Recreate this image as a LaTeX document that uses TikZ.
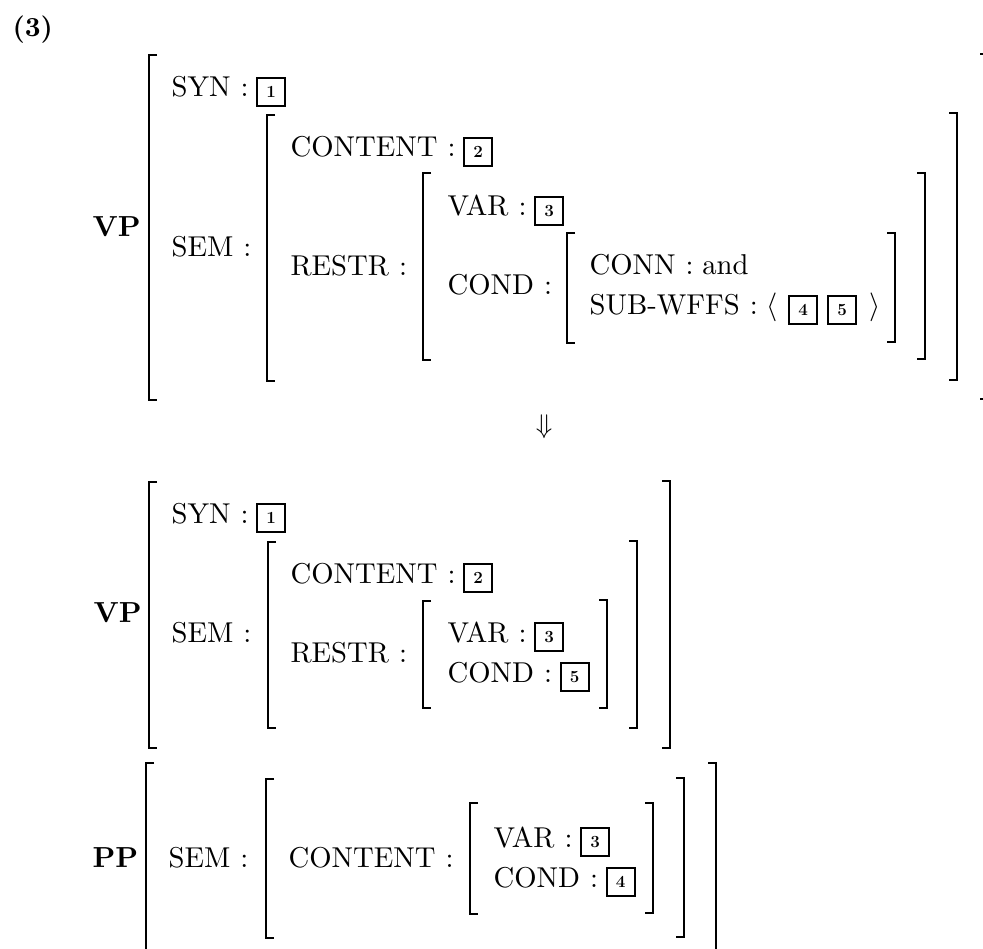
\documentclass[tikz,border=0pt]{standalone}
\tikzset{
  avmtext/.style={inner sep=0pt, anchor=base west, font=\fontsize{10}{12}\selectfont, scale=2.87},
  avmcat/.style={inner sep=0pt, anchor=base west, font=\fontsize{10}{12}\selectfont\bfseries, scale=2.9},
  tagbox/.style={draw, line width=2pt, minimum width=28pt, minimum height=28pt,
    inner sep=0pt, anchor=west, font=\fontsize{17}{17}\selectfont\bfseries},
  tagafter/.style={tagbox, xshift=7pt, yshift=5pt},
  brk/.style={line width=2.7pt, line join=miter, line cap=butt},
}
\newcommand{\fcolon}{\hspace{0.35em}:\hspace{0.3em}}

\begin{document}
\begin{tikzpicture}[x=1pt, y=-1pt]
\useasboundingbox (0,0) rectangle (983,949);
\clip (0,0) rectangle (983,949);
\node[avmcat, scale=2.75/2.9] (exno) at (12,37) {(3)};
% upper VP
\node[avmcat] (vpa) at (92,237) {VP};
\node[avmtext] (syna) at (171,97) {SYN\fcolon};
\node[tagafter] (ta1) at (syna.base east) {1};
\node[avmtext] (sema) at (171,257) {SEM\fcolon};
\node[avmtext] (conta) at (290,157) {CONTENT\fcolon};
\node[tagafter] (ta2) at (conta.base east) {2};
\node[avmtext] (restra) at (290,276) {RESTR\fcolon};
\node[avmtext] (vara) at (447,216) {VAR\fcolon};
\node[tagafter] (ta3) at (vara.base east) {3};
\node[avmtext] (conda) at (447,295) {COND\fcolon};
\node[avmtext] (conna) at (589,275) {CONN\fcolon and};
\node[avmtext] (suba) at (589,315) {SUB-WFFS\fcolon$\langle$};
\node[tagbox] (ta4) at ([xshift=10pt,yshift=5pt]suba.base east) {4};
\node[tagbox] (ta5) at ([xshift=9pt]ta4.east) {5};
\node[avmtext] (suben) at ([xshift=12pt,yshift=-5pt]ta5.east) {$\rangle$};
\foreach \x/\t/\b in {149/55/400, 267/115/381, 423/173/360, 567/233/343}
  \draw[brk] (\x+8,\t) -- (\x,\t) -- (\x,\b) -- (\x+8,\b);
\foreach \x/\t/\b in {988/54/399, 957/113/380, 925/173/359, 895/233/342}
  \draw[brk] (\x-8,\t) -- (\x,\t) -- (\x,\b) -- (\x-8,\b);
% rewrite arrow
\node[inner sep=0pt, font=\fontsize{10}{12}\selectfont, scale=2.7] (rew) at (544,427) {$\Downarrow$};
% lower VP
\node[avmcat] (vpb) at (93,622) {VP};
\node[avmtext] (synb) at (171,523) {SYN\fcolon};
\node[tagafter] (tb1) at (synb.base east) {1};
\node[avmtext] (semb) at (171,642) {SEM\fcolon};
\node[avmtext] (contb) at (290,583) {CONTENT\fcolon};
\node[tagafter] (tb2) at (contb.base east) {2};
\node[avmtext] (restrb) at (290,662) {RESTR\fcolon};
\node[avmtext] (varb) at (447,642) {VAR\fcolon};
\node[tagafter] (tb3) at (varb.base east) {3};
\node[avmtext] (condb) at (447,682) {COND\fcolon};
\node[tagafter] (tb5) at (condb.base east) {5};
\foreach \x/\t/\b in {149/482/748, 268/542/728, 423/601/708}
  \draw[brk] (\x+8,\t) -- (\x,\t) -- (\x,\b) -- (\x+8,\b);
\foreach \x/\t/\b in {670/481/748, 637/541/728, 607/600/708}
  \draw[brk] (\x-8,\t) -- (\x,\t) -- (\x,\b) -- (\x-8,\b);
% PP
\node[avmcat] (ppc) at (92,867) {PP};
\node[avmtext] (semc) at (168,867) {SEM\fcolon};
\node[avmtext] (contc) at (288,867) {CONTENT\fcolon};
\node[avmtext] (varc) at (493,847) {VAR\fcolon};
\node[tagafter] (tc3) at (varc.base east) {3};
\node[avmtext] (condc) at (493,887) {COND\fcolon};
\node[tagafter] (tc4) at (condc.base east) {4};
\foreach \x/\t/\b in {146/763/960, 266/779/938, 470/803/914}
  \draw[brk] (\x+8,\t) -- (\x,\t) -- (\x,\b) -- (\x+8,\b);
\foreach \x/\t/\b in {716/763/960, 684/778/937, 653/803/913}
  \draw[brk] (\x-8,\t) -- (\x,\t) -- (\x,\b) -- (\x-8,\b);
\end{tikzpicture}
\end{document}
